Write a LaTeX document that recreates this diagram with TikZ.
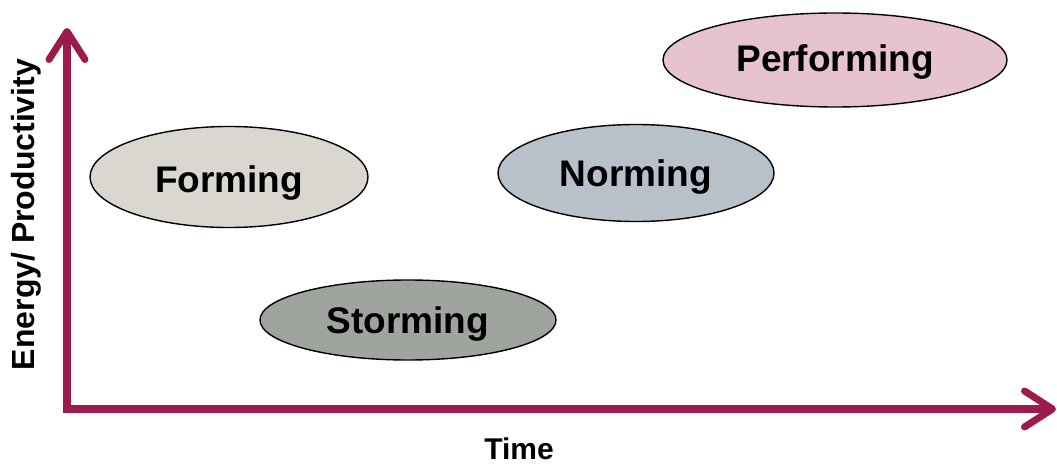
\documentclass[tikz,border=0pt]{standalone}
\usepackage{fontspec}
\setmainfont{Liberation Sans}
\usetikzlibrary{arrows.meta,shapes.geometric}
\definecolor{axiscol}{HTML}{9B1C4A}
\definecolor{formfill}{HTML}{DAD7D0}
\definecolor{stormfill}{HTML}{9FA49F}
\definecolor{normfill}{HTML}{B8C0C9}
\definecolor{perffill}{HTML}{E6C3CF}
\tikzset{
  stage/.style={ellipse, draw=black, line width=1.4pt, inner sep=0pt},
  stagetext/.style={inner sep=0pt, text height=26.5pt, text depth=0pt,
    font=\fontsize{37}{40}\selectfont\bfseries},
  axis/.style={draw=axiscol, line width=7.5pt,
    arrows={Straight Barb[length=28pt, width=36pt, line width=7pt, round]-Straight Barb[length=28pt, width=36pt, line width=7pt, round]}},
  axislabel/.style={inner sep=0pt, text depth=0pt}
}
\begin{document}
\begin{tikzpicture}[x=1pt, y=-1pt]
  \useasboundingbox (0,0) rectangle (1057,465);
  % axes
  \coordinate (ytop) at (67,28);
  \coordinate (origin) at (67,409);
  \coordinate (xend) at (1056,409);
  \draw[axis] (ytop) -- (origin) -- (xend);
  % stages
  \node[stage, fill=formfill, minimum width=278pt, minimum height=101pt] (forming) at (229,177) {};
  \node[stage, fill=stormfill, minimum width=296pt, minimum height=80pt] (storming) at (408,320) {};
  \node[stage, fill=normfill, minimum width=276pt, minimum height=97pt] (norming) at (636,173) {};
  \node[stage, fill=perffill, minimum width=344pt, minimum height=94pt] (performing) at (835,60) {};
  \node[stagetext] (formingtext) at ([yshift=-2pt]forming.center) {Forming};
  \node[stagetext] (stormingtext) at ([yshift=0pt]storming.center) {Storming};
  \node[stagetext] (normingtext) at ([yshift=0pt]norming.center) {Norming};
  \node[stagetext] (performingtext) at ([yshift=2pt]performing.center) {Performing};
  % axis labels
  \node[axislabel, text height=21.5pt, font=\fontsize{30}{32}\selectfont\bfseries] (time) at (519,449) {Time};
  \node[axislabel, text height=22.9pt, font=\fontsize{32}{34}\selectfont\bfseries, rotate=90] (energy) at (23.5,214.5) {Energy/ Productivity};
\end{tikzpicture}
\end{document}
